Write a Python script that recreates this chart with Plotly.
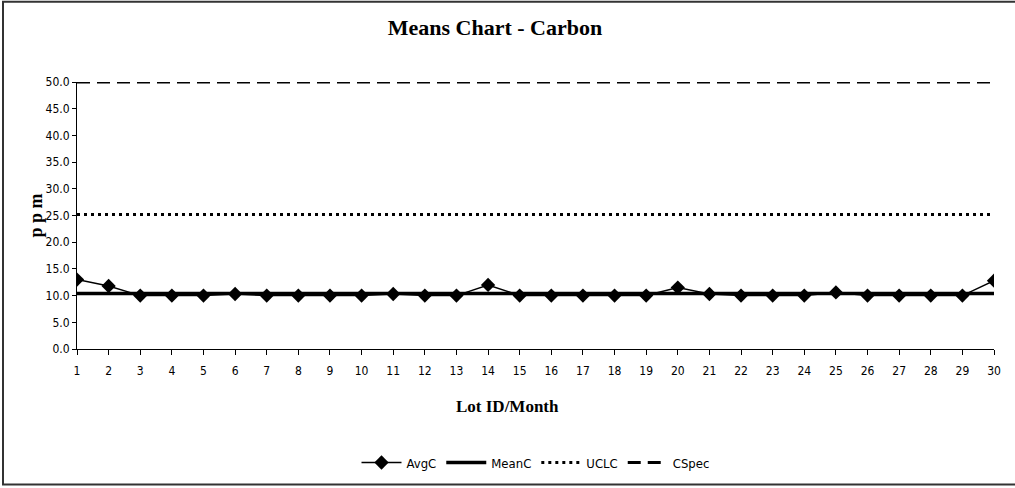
import plotly.graph_objects as go

lots = list(range(1, 31))
avg_c = [13.0, 11.8, 10.0, 10.0, 10.0, 10.3, 10.0, 10.0, 10.0, 10.0,
         10.3, 10.0, 10.0, 12.0, 10.0, 10.0, 10.0, 10.0, 10.0, 11.5,
         10.3, 10.0, 10.0, 10.0, 10.6, 10.0, 10.0, 10.0, 10.0, 12.8]
mean_c = [10.4] * 30
ucl_c = [25.2] * 30
c_spec = [50.0] * 30

narrow = "Liberation Sans Narrow, Arial Narrow, DejaVu Sans Condensed, Liberation Sans"
serif = "Liberation Serif, Times New Roman, serif"

fig = go.Figure()
fig.add_trace(go.Scatter(x=lots, y=avg_c, name="AvgC", mode="lines+markers",
                         line=dict(color="black", width=1.5),
                         marker=dict(symbol="diamond", size=11, color="black")))
fig.add_trace(go.Scatter(x=lots, y=mean_c, name="MeanC", mode="lines",
                         line=dict(color="black", width=3.5)))
fig.add_trace(go.Scatter(x=lots, y=ucl_c, name="UCLC", mode="lines",
                         line=dict(color="black", width=3, dash="3px,4px")))
fig.add_trace(go.Scatter(x=lots, y=c_spec, name="CSpec", mode="lines",
                         line=dict(color="black", width=3, dash="13px,7px")))

fig.update_layout(
    width=1015, height=488,
    margin=dict(l=77, r=21, t=82, b=138),
    paper_bgcolor="white", plot_bgcolor="white",
    showlegend=True,
    title=dict(text="<b>Means Chart - Carbon</b>", x=495 / 1015, xref="container",
               xanchor="center", y=1 - 27 / 488, yanchor="middle",
               font=dict(family=serif, size=22, color="black")),
    legend=dict(orientation="h", x=0.5, xanchor="center", y=-0.42, yanchor="middle",
                font=dict(family=narrow, size=13, color="black"),
                itemwidth=40, bgcolor="rgba(0,0,0,0)"),
    font=dict(family=narrow, color="black"),
)
fig.update_xaxes(range=[1, 30], tickmode="linear", dtick=1, tick0=1,
                 showgrid=False, zeroline=False, showline=True, linecolor="black",
                 linewidth=1, ticks="outside", ticklen=5, tickcolor="black",
                 ticklabelstandoff=6,
                 tickfont=dict(family=narrow, size=12, color="black"))
fig.update_yaxes(range=[0, 50], tickmode="linear", dtick=5, tick0=0, tickformat=".1f",
                 showgrid=False, zeroline=False, showline=True, linecolor="black",
                 linewidth=1, ticks="outside", ticklen=4, tickcolor="black",
                 tickfont=dict(family=narrow, size=12, color="black"))

fig.add_annotation(text="<b>Lot ID/Month</b>", xref="paper", yref="paper",
                   x=(507 - 77) / 917, y=(350 - 408) / 268, showarrow=False,
                   xanchor="center", yanchor="middle",
                   font=dict(family=serif, size=17, color="black"))
fig.add_annotation(text="<b>p p m</b>", xref="paper", yref="paper",
                   x=(35 - 77) / 917, y=0.5, showarrow=False, textangle=-90,
                   xanchor="center", yanchor="middle",
                   font=dict(family=serif, size=18, color="black"))

# outer frame (right edge falls outside the page like in the source)
fig.add_shape(type="rect", xref="paper", yref="paper",
              x0=(3 - 77) / 917, x1=(1020 - 77) / 917,
              y0=(350 - 486) / 268, y1=(350 - 1.5) / 268,
              line=dict(color="#333333", width=2))

fig.write_html("out.html", config={"displayModeBar": False},
               post_script="document.body.style.margin='0';")
